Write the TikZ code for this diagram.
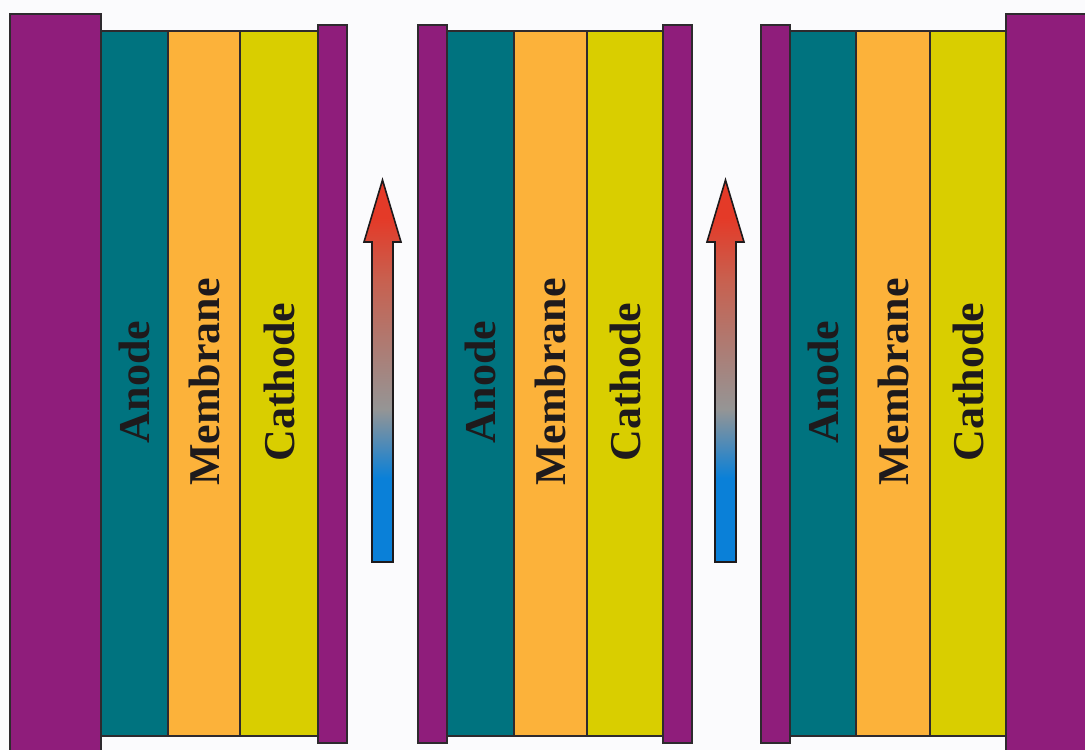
\documentclass[tikz,border=0pt]{standalone}
\usepackage{fontspec}
\setmainfont{Liberation Serif}
\definecolor{plate}{HTML}{8F1D7B}
\definecolor{anodec}{HTML}{00737F}
\definecolor{membc}{HTML}{FCB23A}
\definecolor{cathc}{HTML}{D9CE00}
\definecolor{edge}{HTML}{2E2A2E}
\definecolor{ink}{HTML}{1E1A1C}
\definecolor{bgc}{HTML}{FBFBFD}
\definecolor{hot}{HTML}{E43A28}
\definecolor{warm}{HTML}{C8604F}
\definecolor{mid}{HTML}{959595}
\definecolor{cold}{HTML}{0A80D8}
\pgfdeclareverticalshading{flow}{100bp}{color(0bp)=(cold); color(36bp)=(cold); color(45bp)=(mid); color(62bp)=(warm); color(70bp)=(hot); color(100bp)=(hot)}
\begin{document}
\begin{tikzpicture}[x=1pt,y=-1pt,
  layer/.style={draw=edge,line width=1.8pt},
  endplate/.style={draw=edge,line width=2.4pt,fill=plate},
  lbl/.style={rotate=90,font=\bfseries\fontsize{44}{44}\selectfont,text=ink,inner sep=0pt},
  flowarrow/.style={shading=flow,draw=ink,line width=1.6pt,line join=miter}]
\useasboundingbox (0,0) rectangle (1085,750);
\fill[bgc] (0,0) rectangle (1085,750);
% end plates
\path[endplate] (10,14) rectangle (101,756);
\path[endplate] (1006,14) rectangle (1092,756);
% cells
\foreach \a/\m/\c/\e/\n in {101/168/240/318/1,447/514/587/663/2,790/856/930/1006/3}{
  \path[layer,fill=anodec] (\a,31) rectangle (\m,736);
  \path[layer,fill=membc] (\m,31) rectangle (\c,736);
  \path[layer,fill=cathc] (\c,31) rectangle (\e,736);
  \node[lbl] (an\n) at ({(\a+\m)/2},382) {Anode};
  \node[lbl] (me\n) at ({(\m+\c)/2},382) {Membrane};
  \node[lbl] (ca\n) at ({(\c+\e)/2},382) {Cathode};
}
% bipolar plates
\foreach \x in {318,418,663,761}{
  \path[layer,fill=plate] (\x,25) rectangle ({\x+29},743);
}
% flow arrows
\foreach \cx in {382.5,725.5}{
  \path[flowarrow] ({\cx-10.5},562) -- ({\cx-10.5},242) -- ({\cx-18.5},242) -- (\cx,180)
     -- ({\cx+18.5},242) -- ({\cx+10.5},242) -- ({\cx+10.5},562) -- cycle;
}
\end{tikzpicture}
\end{document}
